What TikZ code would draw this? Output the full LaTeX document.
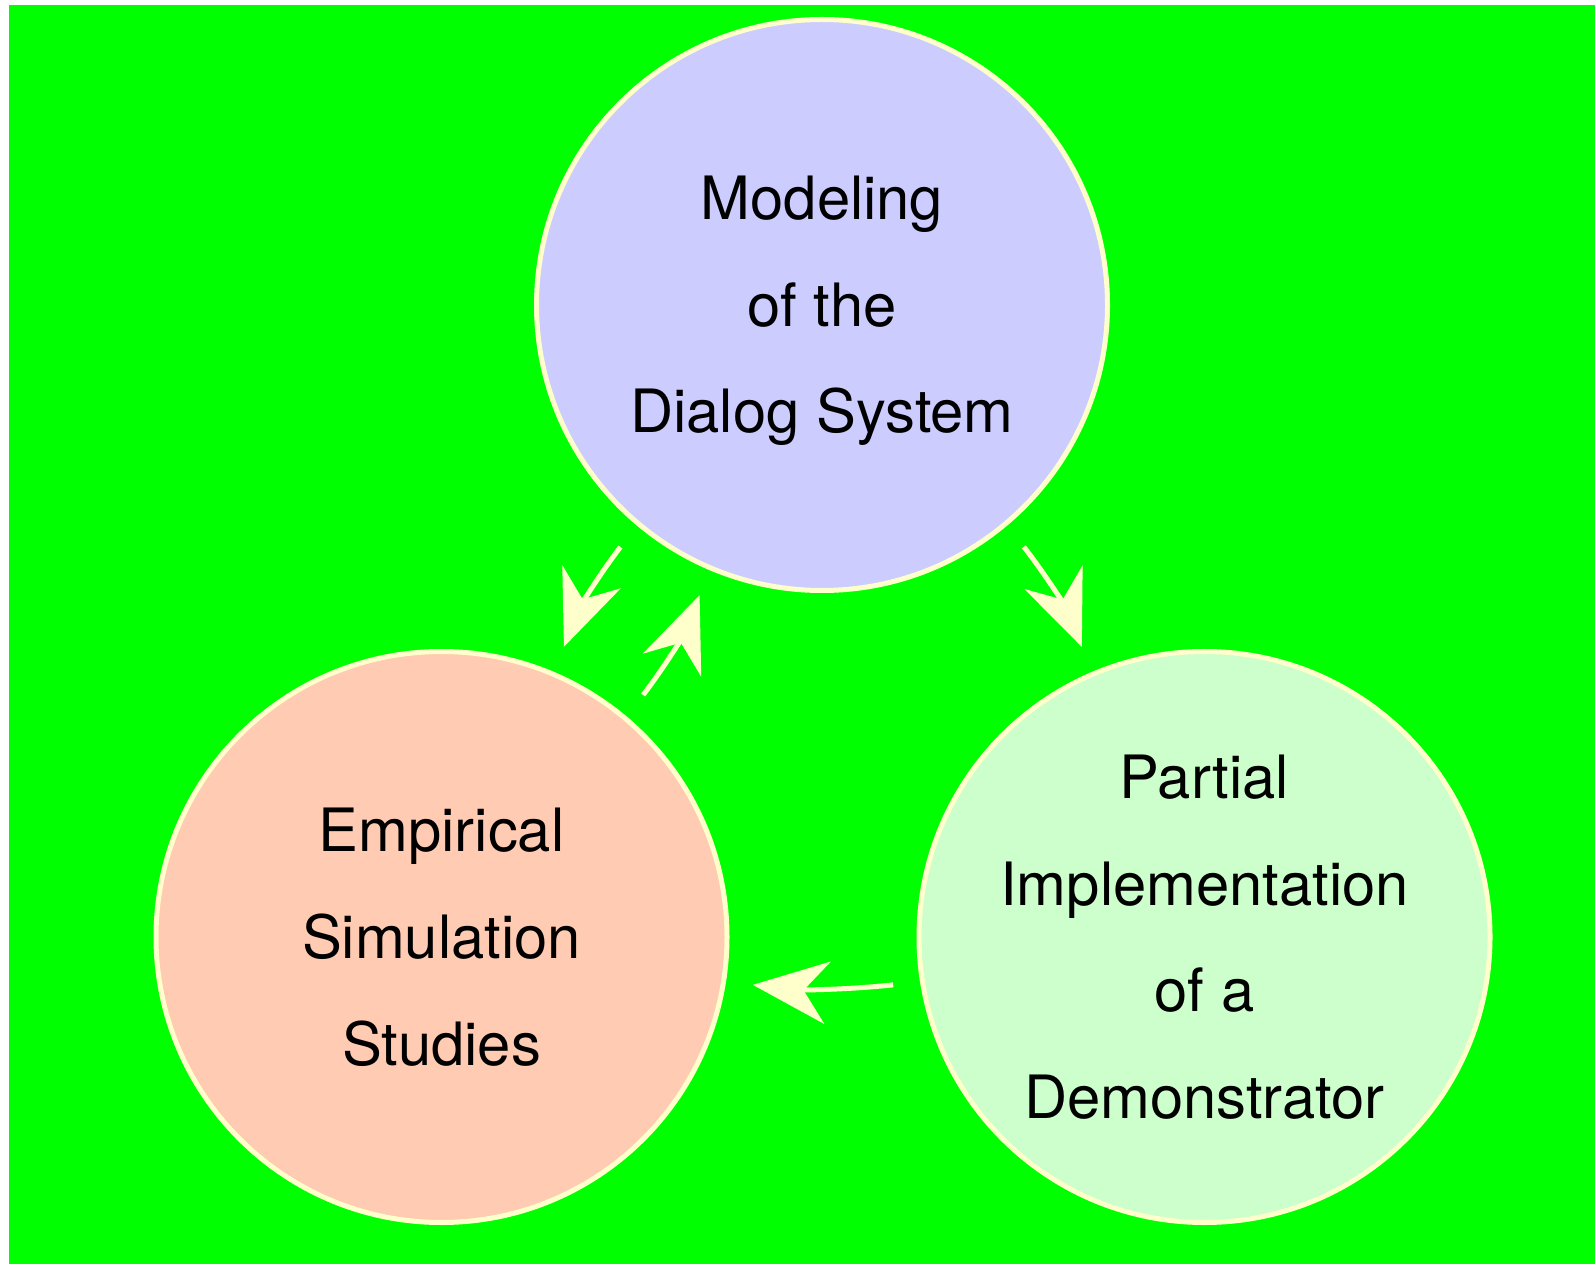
\documentclass[tikz,border=0pt]{standalone}
\usepackage{fontspec}
\setmainfont{TeX Gyre Heros}
\usetikzlibrary{arrows.meta}

\definecolor{bggreen}{HTML}{00FF00}
\definecolor{paleyellow}{HTML}{FFFFCC}
\definecolor{modblue}{HTML}{CCCCFF}
\definecolor{emppeach}{HTML}{FFCCB3}
\definecolor{implgreen}{HTML}{CCFFCC}

\begin{document}
\begin{tikzpicture}
  [every node/.style={circle,draw=paleyellow,line width=0.1cm,minimum size=11.42cm,
     inner sep=-0.4cm,align=center,font=\fontsize{34}{60.7}\selectfont},
   cycarrow/.style={draw=paleyellow,line width=0.1cm,
     -{Stealth[length=1.5cm,width=1.25cm,inset=0.48cm]},
     shorten <=0.54cm,shorten >=0.54cm}]
  \useasboundingbox (0,0) rectangle (31.9,25.28);
  \fill[bggreen] (0.18,0) rectangle (31.9,25.18);

  \node[fill=modblue]   (model) at (16.44,19.18) {\strut Modeling\\\strut of the\\\strut Dialog System};
  \node[fill=emppeach]  (emp)   at (8.83,6.54)   {\strut Empirical\\\strut Simulation\\\strut Studies};
  \node[fill=implgreen] (impl)  at (24.09,6.54)  {\strut Partial\\\strut Implementation\\\strut of a\\\strut Demonstrator};

\foreach \from/\to/\bend in
{model.230/emp.67/8, emp.50/model.247/8, model.310/impl.113/-8, impl.189/emp.351/-6}
    \draw[cycarrow] (\from) to[bend right=\bend] (\to);
\end{tikzpicture}
\end{document}
